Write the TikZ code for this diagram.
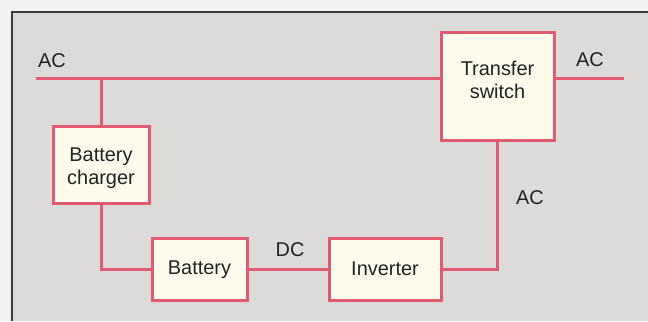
\documentclass[tikz,border=0pt]{standalone}
\usepackage{fontspec}
\setmainfont{Liberation Sans}
\definecolor{wire}{HTML}{E05A72}
\definecolor{panel}{HTML}{DCDBD9}
\definecolor{outer}{HTML}{F2F2F2}
\definecolor{boxfill}{HTML}{FCFBEC}
\definecolor{frame}{HTML}{3A3A3A}
\definecolor{ink}{HTML}{222222}
\begin{document}
\begin{tikzpicture}[x=1bp,y=-1bp,
  unit/.style={draw=wire,line width=3bp,fill=boxfill,inner sep=0pt},
  txt/.style={align=center,font=\fontsize{20}{23}\selectfont,text=ink,inner sep=0pt},
  wireline/.style={draw=wire,line width=3bp},
  lbl/.style={font=\fontsize{20}{23}\selectfont,text=ink,inner sep=0pt}]
\fill[outer] (0,0) rectangle (648,321);
\useasboundingbox (0,0) rectangle (648,321);
\fill[panel] (12,12) rectangle (648,321);
\draw[frame,line width=1.2bp] (12,321) -- (12,12) -- (648,12);
% boxes
\node[unit,minimum width=96bp,minimum height=77bp] (chg) at (101,164.5) {};
\node[txt] (chgt) at (101,168.5) {Battery\\charger};
\node[unit,minimum width=95bp,minimum height=62bp] (bat) at (199.5,269) {};
\node[txt] (batt) at (199.5,270) {Battery};
\node[unit,minimum width=112bp,minimum height=62bp] (inv) at (385,269) {};
\node[txt] (invt) at (385,268.5) {Inverter};
\node[unit,minimum width=113bp,minimum height=108bp] (ts) at (497.5,86) {};
\node[txt] (tst) at (497.5,80) {Transfer\\switch};
% endpoints
\coordinate (acL) at (36,78);
\coordinate (acR) at (624,78);
\coordinate (tap) at (chg.north |- acL);
% wires
\draw[wireline] (acL) -- (acL -| ts.west);
\draw[wireline] (tap) -- (chg.north);
\draw[wireline] (chg.south) |- (bat.west);
\draw[wireline] (bat.east) -- (inv.west);
\draw[wireline] (inv.east) -| (ts.south);
\draw[wireline] (ts.east |- acR) -- (acR);
% labels
\node[lbl] (l1) at (52,61) {AC};
\node[lbl] (l2) at (590,60) {AC};
\node[lbl] (l3) at (530,198) {AC};
\node[lbl] (l4) at (290,250) {DC};
\end{tikzpicture}
\end{document}
